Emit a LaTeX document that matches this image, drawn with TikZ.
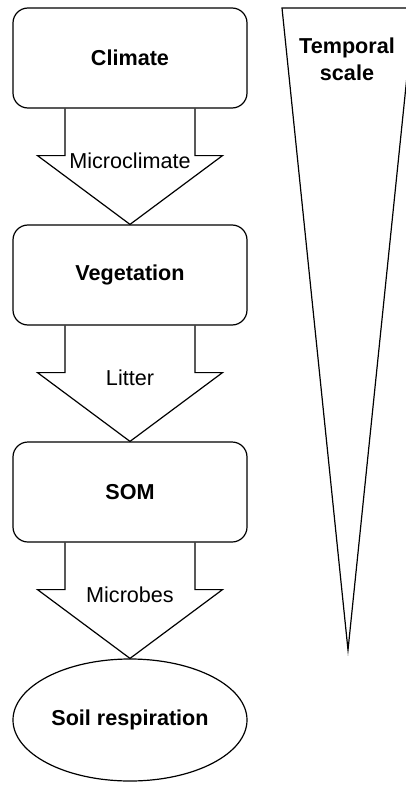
\documentclass[tikz,border=0pt]{standalone}
\usepackage{fontspec}
\setmainfont{Liberation Sans}
\usetikzlibrary{calc, shapes.geometric}

\tikzset{
  stage/.style={draw, rounded corners=15pt, minimum width=234pt, minimum height=100pt, inner sep=0pt, font=\fontsize{21.6}{26}\selectfont\bfseries},
  outcome/.style={draw, ellipse, minimum width=234pt, minimum height=122pt, inner sep=0pt, font=\fontsize{21.6}{26}\selectfont\bfseries},
  flowlabel/.style={font=\fontsize{21.6}{26}\selectfont},
}

% block arrow from one node down to the next
\newcommand{\flowarrow}[3]{%
  \draw ($(#1.south)+(-65,0)$) -- ($(#1.south)+(-65,47)$) -- ($(#1.south)+(-92.5,47)$)
    -- (#2.north) -- ($(#1.south)+(92.5,47)$) -- ($(#1.south)+(65,47)$) -- ($(#1.south)+(65,0)$);
  \node [flowlabel] at ($(#1.south)+(0,52)$) {#3};
}

\begin{document}
\begin{tikzpicture}[x=1pt, y=-1pt, line width=1.2pt]
  \useasboundingbox (0,0) rectangle (406,789);

  \node [stage] (climate) at (130,58) {Climate};
  \node [stage] (vegetation) at (130,275) {Vegetation};
  \node [stage] (som) at (130,492) {SOM};
  \node [outcome] (soil) at (130,720) {Soil respiration};

  \flowarrow{climate}{vegetation}{Microclimate}
  \flowarrow{vegetation}{som}{Litter}
  \flowarrow{som}{soil}{Microbes}

  % temporal scale wedge
  \coordinate (wedgeleft) at (282,8);
  \coordinate (wedgeright) at (414,8);
  \coordinate (wedgetip) at (348,650);
  \draw (wedgeleft) -- (wedgeright) -- (wedgetip) -- cycle;
  \node [font=\fontsize{21.6}{27}\selectfont\bfseries, align=center] (temporal) at (347,59) {Temporal\\scale};
\end{tikzpicture}
\end{document}
